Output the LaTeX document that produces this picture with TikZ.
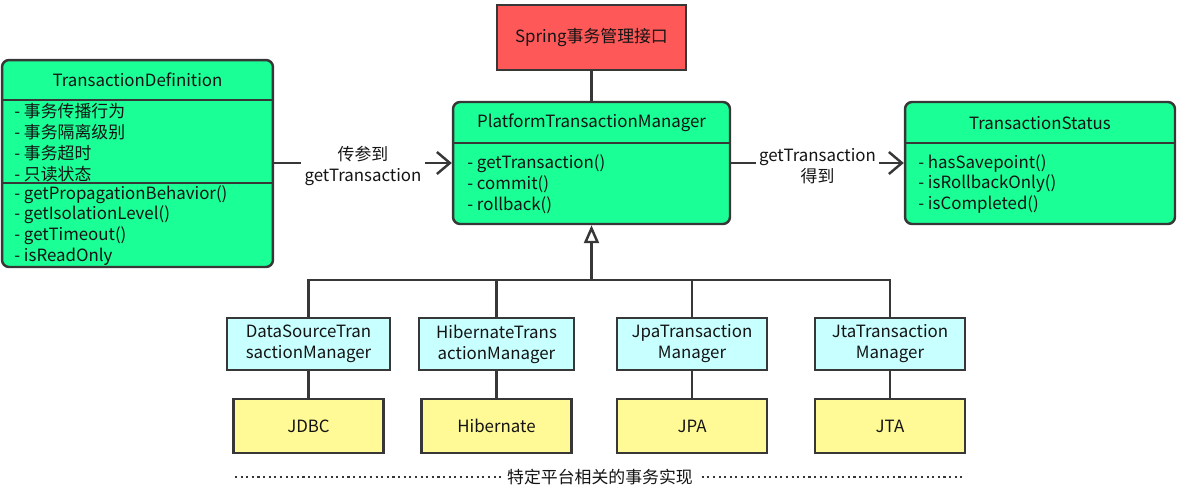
\documentclass[tikz,border=0pt]{standalone}
\usepackage{fontspec}
\setmainfont{Noto Sans CJK SC}
\usetikzlibrary{arrows.meta,positioning,calc}
\definecolor{ifgreen}{RGB}{26,255,150}
\definecolor{ifred}{RGB}{255,88,88}
\definecolor{implcyan}{RGB}{200,255,255}
\definecolor{libyellow}{RGB}{255,250,150}
\definecolor{edgegray}{RGB}{55,55,55}
\definecolor{inkgray}{RGB}{20,20,20}

\begin{document}
\begin{tikzpicture}[
  x=0.02cm,y=-0.02cm,
  >={Straight Barb[length=2.6mm,width=4.4mm]},
  every node/.style={font=\fontsize{9.6}{11.9}\selectfont,text=inkgray},
  box/.style={draw=edgegray,line width=1.4pt,inner sep=0pt,align=center},
  cls/.style={box,fill=ifgreen,rounded corners=4pt,minimum height=2.44cm},
  impl/.style={box,fill=implcyan,minimum width=3cm,minimum height=1.04cm},
  lib/.style={box,fill=libyellow,minimum width=3cm,minimum height=1.08cm},
  members/.style={align=left,anchor=west,inner sep=0pt},
  wire/.style={draw=edgegray,line width=1.4pt},
  arrow/.style={wire,->},
  label/.style={fill=white,align=center,inner sep=2pt}
]
\useasboundingbox (0,0) rectangle (1186,494);

% interface layer
\node[box,fill=ifred,minimum width=3.78cm,minimum height=1.3cm] (spring) at (591.5,37.5) {Spring事务管理接口};
\node[cls,minimum width=5.54cm] (ptm) at (591.5,163) {};
\node[cls,minimum width=5.42cm,minimum height=4.14cm] (td) at (137.5,163.5) {};
\node[cls,minimum width=5.4cm] (ts) at (1040,163) {};

\node (tdhead) at (137.5,80) {TransactionDefinition};
\draw[wire] (td.west |- 0,100) -- (td.east |- 0,100);
\node[members] (tdattr) at (14,142.5) {- 事务传播行为\\- 事务隔离级别\\- 事务超时\\- 只读状态};
\draw[wire] (td.west |- 0,183) -- (td.east |- 0,183);
\node[members] (tdops) at (14,225.5) {- getPropagationBehavior()\\- getIsolationLevel()\\- getTimeout()\\- isReadOnly};

\node (ptmhead) at (591.5,123) {PlatformTransactionManager};
\draw[wire] (ptm.west |- 0,143) -- (ptm.east |- 0,143);
\node[members] (ptmops) at (467,184) {- getTransaction()\\- commit()\\- rollback()};

\node (tshead) at (1040,123) {TransactionStatus};
\draw[wire] (ts.west |- 0,143) -- (ts.east |- 0,143);
\node[members] (tsops) at (918,184) {- hasSavepoint()\\- isRollbackOnly()\\- isCompleted()};

\draw[wire] (spring) -- (ptm);
\draw[arrow] (td.east |- ptm.west) -- node[label,yshift=-0.06cm] {传参到\\getTransaction} (ptm.west);
\draw[arrow] (ptm.east) -- node[label,yshift=-0.06cm] {getTransaction\\得到} (ts.west);

% platform implementations
\coordinate (bus) at (591.5,280);
\draw[wire,-{Triangle[open,length=0.36cm,width=0.3cm]}] (bus) -- (ptm.south);
\foreach \nm/\x/\w/\impltext/\libtext in {
  ds/308.5/3.26/{DataSourceTran\\sactionManager}/JDBC,
  hib/496.5/3.1/{HibernateTrans\\actionManager}/Hibernate,
  jpa/692/3.0/{JpaTransaction\\Manager}/JPA,
  jta/890/3.0/{JtaTransaction\\Manager}/JTA} {
  \node[impl,minimum width=\w cm] (\nm) at (\x,344) {\impltext};
  \node[lib] (\nm lib) at (\x,426) {\libtext};
  \draw[wire] (\nm) -- (\nm lib);
  \draw[wire] (\nm.north) |- (bus);
}

\coordinate (dotl) at (235,477);
\coordinate (dotr) at (965,477);
\draw[draw=edgegray,line width=1.2pt,dotted] (dotl) -- node[label,inner sep=3pt] {特定平台相关的事务实现} (dotr);
\end{tikzpicture}
\end{document}
